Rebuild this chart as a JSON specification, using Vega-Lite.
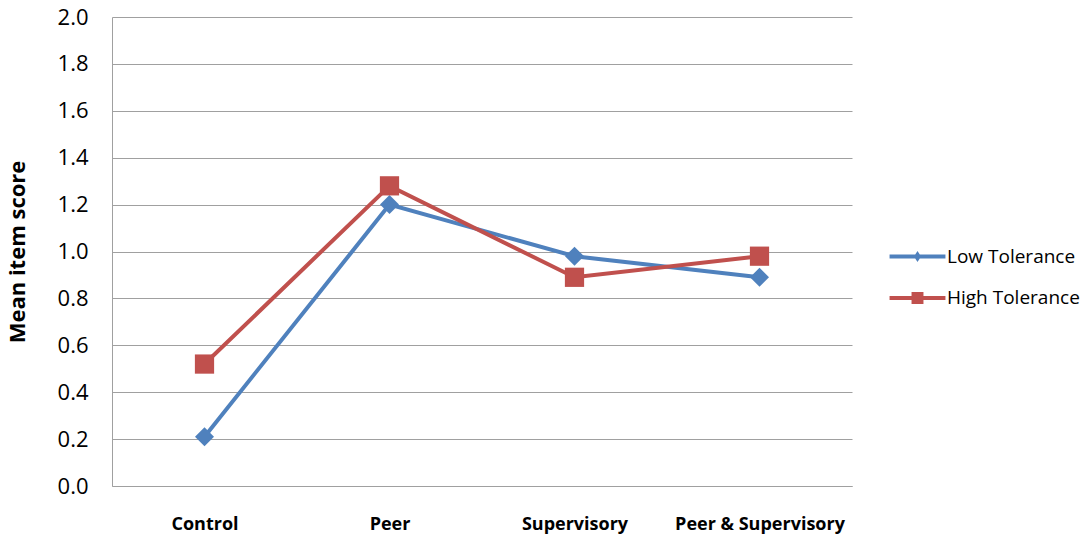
{
  "$schema": "https://vega.github.io/schema/vega-lite/v6.json",
  "width": 740,
  "height": 469,
  "autosize": {"type": "none"},
  "padding": {"left": 112, "top": 17, "right": 239, "bottom": 49},
  "background": "white",
  "config": {
    "view": {"stroke": null},
    "font": "Open Sans",
    "axis": {"labelFont": "Open Sans", "titleFont": "Open Sans"},
    "legend": {"labelFont": "Open Sans"}
  },
  "data": {
    "values": [
      {"condition": "Control", "group": "Low Tolerance", "score": 0.21},
      {"condition": "Peer", "group": "Low Tolerance", "score": 1.20},
      {"condition": "Supervisory", "group": "Low Tolerance", "score": 0.98},
      {"condition": "Peer & Supervisory", "group": "Low Tolerance", "score": 0.89},
      {"condition": "Control", "group": "High Tolerance", "score": 0.52},
      {"condition": "Peer", "group": "High Tolerance", "score": 1.28},
      {"condition": "Supervisory", "group": "High Tolerance", "score": 0.89},
      {"condition": "Peer & Supervisory", "group": "High Tolerance", "score": 0.98}
    ]
  },
  "encoding": {
    "x": {
      "field": "condition",
      "type": "ordinal",
      "sort": ["Control", "Peer", "Supervisory", "Peer & Supervisory"],
      "scale": {"type": "point", "padding": 0.5},
      "axis": {
        "title": null,
        "labelAngle": 0,
        "labelFontSize": 18,
        "labelFontWeight": "bold",
        "labelColor": "#000000",
        "labelPadding": 29,
        "ticks": false,
        "grid": false,
        "domainColor": "#a0a0a0",
        "domainWidth": 1
      }
    },
    "y": {
      "field": "score",
      "type": "quantitative",
      "scale": {"domain": [0, 2], "nice": false},
      "axis": {
        "title": "Mean item score",
        "titleFontSize": 22,
        "titleFontWeight": "bold",
        "titleColor": "#000000",
        "titlePadding": 28,
        "values": [0, 0.2, 0.4, 0.6, 0.8, 1.0, 1.2, 1.4, 1.6, 1.8, 2.0],
        "format": ".1f",
        "labelFontSize": 22,
        "labelColor": "#000000",
        "labelPadding": 24,
        "ticks": false,
        "grid": true,
        "gridColor": "#a0a0a0",
        "gridWidth": 1,
        "domainColor": "#a0a0a0",
        "domainWidth": 1
      }
    },
    "color": {
      "field": "group",
      "type": "nominal",
      "scale": {"domain": ["Low Tolerance", "High Tolerance"], "range": ["#4F81BD", "#C0504D"]},
      "legend": {
        "title": null,
        "orient": "none",
        "legendX": 792,
        "legendY": 226,
        "rowPadding": 17.5,
        "labelFontSize": 19,
        "labelColor": "#000000",
        "labelOffset": 16,
        "symbolSize": 702,
        "symbolOpacity": 1,
        "symbolStrokeWidth": 0,
        "encode": {
          "symbols": {
            "update": {
              "shape": {"signal": "datum.value === 'Low Tolerance' ? 'M-2.11,-0.15H2.11V0.15H-2.11Z M0,-0.41L0.27,0L0,0.41L-0.27,0Z' : 'M-2.11,-0.15H2.11V0.15H-2.11Z M-0.45,-0.45H0.45V0.45H-0.45Z'"},
              "size": {"value": 702},
              "opacity": {"value": 1},
              "strokeWidth": {"value": 0},
              "fill": {"signal": "datum.value === 'Low Tolerance' ? '#4F81BD' : '#C0504D'"}
            }
          }
        }
      }
    }
  },
  "layer": [
    {
      "mark": {"type": "line", "strokeWidth": 4}
    },
    {
      "transform": [{"filter": "datum.group === 'Low Tolerance'"}],
      "mark": {"type": "point", "shape": "diamond", "size": 360, "filled": true, "opacity": 1, "strokeWidth": 0}
    },
    {
      "transform": [{"filter": "datum.group === 'High Tolerance'"}],
      "mark": {"type": "point", "shape": "square", "size": 370, "filled": true, "opacity": 1, "strokeWidth": 0}
    }
  ]
}
